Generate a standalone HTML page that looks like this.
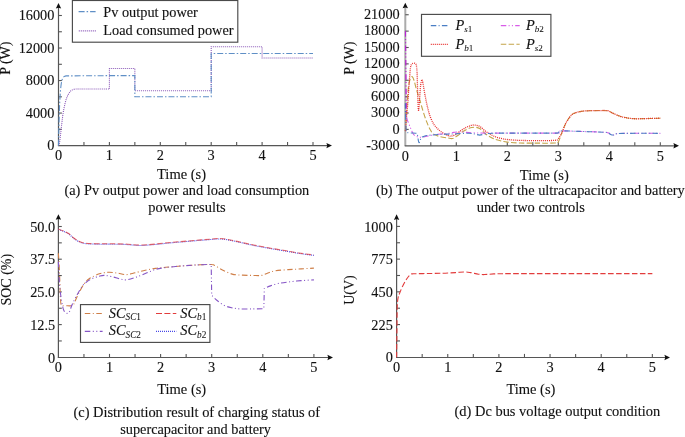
<!DOCTYPE html>
<html><head><meta charset="utf-8"><style>
html,body{margin:0;padding:0;background:#fff;}
svg{display:block;}
svg{will-change:transform;filter:blur(0.35px);}
text{font-family:"Liberation Serif", serif;font-size:14px;fill:#111;stroke:#111;stroke-width:0.12px;}
text.cap{font-size:14.45px;}
text.tl{font-size:14.5px;}
text.tk{font-size:14.3px;}
text.lg{font-size:14.3px;}
</style></head><body>
<svg width="685" height="437" viewBox="0 0 685 437">
<g>
<path d="M58.5,7 V145.6" stroke="#565656" stroke-width="1.2" fill="none"/>
<path d="M57.9,145.6 H328" stroke="#565656" stroke-width="1.2" fill="none"/>
<path d="M332,145.6 L326.4,142.9 L327.2,145.6 L326.4,148.3 Z" fill="#111"/>
<path d="M58.5,3 L55.8,8.6 L58.5,7.8 L61.2,8.6 Z" fill="#111"/>
<path d="M83.95,145.6 V142" stroke="#565656" stroke-width="1.1"/>
<path d="M109.4,145.6 V142" stroke="#565656" stroke-width="1.1"/>
<path d="M134.85,145.6 V142" stroke="#565656" stroke-width="1.1"/>
<path d="M160.3,145.6 V142" stroke="#565656" stroke-width="1.1"/>
<path d="M185.75,145.6 V142" stroke="#565656" stroke-width="1.1"/>
<path d="M211.2,145.6 V142" stroke="#565656" stroke-width="1.1"/>
<path d="M236.65,145.6 V142" stroke="#565656" stroke-width="1.1"/>
<path d="M262.1,145.6 V142" stroke="#565656" stroke-width="1.1"/>
<path d="M287.55,145.6 V142" stroke="#565656" stroke-width="1.1"/>
<path d="M313,145.6 V142" stroke="#565656" stroke-width="1.1"/>
<text class="tk" x="58.5" y="160.2" text-anchor="middle">0</text>
<text class="tk" x="109.4" y="160.2" text-anchor="middle">1</text>
<text class="tk" x="160.3" y="160.2" text-anchor="middle">2</text>
<text class="tk" x="211.2" y="160.2" text-anchor="middle">3</text>
<text class="tk" x="262.1" y="160.2" text-anchor="middle">4</text>
<text class="tk" x="313" y="160.2" text-anchor="middle">5</text>
<text class="tk" x="54.4" y="150.4" text-anchor="end">0</text>
<path d="M58.5,129.34 H61.9" stroke="#565656" stroke-width="1.1"/>
<path d="M58.5,113.07 H61.9" stroke="#565656" stroke-width="1.1"/>
<text class="tk" x="54.4" y="117.87" text-anchor="end">4000</text>
<path d="M58.5,96.81 H61.9" stroke="#565656" stroke-width="1.1"/>
<path d="M58.5,80.55 H61.9" stroke="#565656" stroke-width="1.1"/>
<text class="tk" x="54.4" y="85.35" text-anchor="end">8000</text>
<path d="M58.5,64.29 H61.9" stroke="#565656" stroke-width="1.1"/>
<path d="M58.5,48.03 H61.9" stroke="#565656" stroke-width="1.1"/>
<text class="tk" x="54.4" y="52.83" text-anchor="end">12000</text>
<path d="M58.5,31.76 H61.9" stroke="#565656" stroke-width="1.1"/>
<path d="M58.5,15.5 H61.9" stroke="#565656" stroke-width="1.1"/>
<text class="tk" x="54.4" y="20.3" text-anchor="end">16000</text>
</g>
<path d="M58.5,145.6 C58.72,144.79 59.27,144.45 59.82,140.72 C60.37,136.99 61.16,128.39 61.81,123.24 C62.45,118.09 62.89,114.02 63.69,109.82 C64.5,105.62 65.51,101.14 66.64,98.03 C67.78,94.93 69.24,92.67 70.51,91.2 C71.78,89.74 72.89,89.61 74.28,89.25 C75.67,88.89 76.4,89.09 78.86,89.05 C81.32,89.01 83.96,89.01 89.04,89.01 C94.12,89 105.96,89.01 109.35,89.01 L109.4,89.01 L109.4,68.52 L134.85,68.52 L134.85,90.8 L211.2,90.8 L211.2,46.72 L262.1,46.72 L262.1,57.95 L313,57.95" fill="none" stroke="#8a58b8" stroke-width="1.1" stroke-dasharray="1 1"/>
<path d="M58.5,145.6 L58.67,136.87 L58.84,129.22 L59.01,122.53 L59.18,116.68 L59.35,111.56 L59.52,107.08 L59.69,103.15 L59.86,99.72 L60.03,96.72 L60.2,94.09 L60.54,89.77 L60.88,86.47 L61.22,83.94 L61.56,82 L62.07,79.92 L62.57,78.52 L63.25,77.34 L64.27,76.42 L65.97,75.87 L106.04,75.67 L134.85,75.67 L134.85,96.81 L174.97,96.81 L211.2,96.81 L211.2,53.55 L251.2,53.55 L291.27,53.55 L313,53.55" fill="none" stroke="#5f8fc6" stroke-width="1.1" stroke-dasharray="6 2 1.5 2"/>
<rect x="72.4" y="0.5" width="165.4" height="41.7" fill="#fff" stroke="#4a4a4a" stroke-width="1.15"/>
<path d="M78.6,11.6 H95.6" stroke="#5f8fc6" stroke-width="1.1" stroke-dasharray="6 2 1.5 2"/>
<path d="M78.8,30.9 H96.3" stroke="#8a58b8" stroke-width="1.1" stroke-dasharray="1 1"/>
<text class="lg" x="103.3" y="16.9">Pv output power</text>
<text class="lg" x="103.3" y="35.1">Load consumed power</text>
<text transform="translate(9.7,58.2) rotate(-90)" text-anchor="middle">P (W)</text>
<text class="tl" x="157" y="179.3">Time (s)</text>
<text class="cap" x="186.85" y="194.9" text-anchor="middle" style="font-size:14.36px">(a) Pv output power and load consumption</text>
<text class="cap" x="186.9" y="211.7" text-anchor="middle">power results</text>
<path d="M405.3,6.7 V145.8" stroke="#ababab" stroke-width="2.0" fill="none"/>
<path d="M404.7,145.8 H675" stroke="#565656" stroke-width="1.2" fill="none"/>
<path d="M679,145.8 L673.4,143.1 L674.2,145.8 L673.4,148.5 Z" fill="#111"/>
<path d="M405.3,2.7 L402.6,8.3 L405.3,7.5 L408,8.3 Z" fill="#111"/>
<path d="M430.8,145.8 V142.2" stroke="#565656" stroke-width="1.1"/>
<path d="M456.3,145.8 V142.2" stroke="#565656" stroke-width="1.1"/>
<path d="M481.8,145.8 V142.2" stroke="#565656" stroke-width="1.1"/>
<path d="M507.3,145.8 V142.2" stroke="#565656" stroke-width="1.1"/>
<path d="M532.8,145.8 V142.2" stroke="#565656" stroke-width="1.1"/>
<path d="M558.3,145.8 V142.2" stroke="#565656" stroke-width="1.1"/>
<path d="M583.8,145.8 V142.2" stroke="#565656" stroke-width="1.1"/>
<path d="M609.3,145.8 V142.2" stroke="#565656" stroke-width="1.1"/>
<path d="M634.8,145.8 V142.2" stroke="#565656" stroke-width="1.1"/>
<path d="M660.3,145.8 V142.2" stroke="#565656" stroke-width="1.1"/>
<text class="tk" x="405.3" y="160.8" text-anchor="middle">0</text>
<text class="tk" x="456.3" y="160.8" text-anchor="middle">1</text>
<text class="tk" x="507.3" y="160.8" text-anchor="middle">2</text>
<text class="tk" x="558.3" y="160.8" text-anchor="middle">3</text>
<text class="tk" x="609.3" y="160.8" text-anchor="middle">4</text>
<text class="tk" x="660.3" y="160.8" text-anchor="middle">5</text>
<text class="tk" x="399.7" y="149.98" text-anchor="end">-3000</text>
<path d="M405.3,129.4 H408.7" stroke="#565656" stroke-width="1.1"/>
<text class="tk" x="399.7" y="133.6" text-anchor="end">0</text>
<path d="M405.3,113.02 H408.7" stroke="#565656" stroke-width="1.1"/>
<text class="tk" x="399.7" y="117.22" text-anchor="end">3000</text>
<path d="M405.3,96.64 H408.7" stroke="#565656" stroke-width="1.1"/>
<text class="tk" x="399.7" y="100.84" text-anchor="end">6000</text>
<path d="M405.3,80.26 H408.7" stroke="#565656" stroke-width="1.1"/>
<text class="tk" x="399.7" y="84.46" text-anchor="end">9000</text>
<path d="M405.3,63.88 H408.7" stroke="#565656" stroke-width="1.1"/>
<text class="tk" x="399.7" y="68.08" text-anchor="end">12000</text>
<path d="M405.3,47.5 H408.7" stroke="#565656" stroke-width="1.1"/>
<text class="tk" x="399.7" y="51.7" text-anchor="end">15000</text>
<path d="M405.3,31.12 H408.7" stroke="#565656" stroke-width="1.1"/>
<text class="tk" x="399.7" y="35.32" text-anchor="end">18000</text>
<path d="M405.3,14.74 H408.7" stroke="#565656" stroke-width="1.1"/>
<text class="tk" x="399.7" y="18.94" text-anchor="end">21000</text>
<path d="M405.3,131.04 C405.43,129.4 405.77,126.03 406.06,121.21 C406.36,116.39 406.62,108.29 407.09,102.1 C407.55,95.91 408.11,88.31 408.87,84.08 C409.63,79.85 410.82,77.35 411.68,76.71 C412.53,76.07 413.16,78.07 413.97,80.26 C414.78,82.45 415.5,86.41 416.52,89.87 C417.54,93.33 418.99,97.4 420.09,101.01 C421.2,104.61 422.05,108.01 423.15,111.49 C424.26,114.98 425.53,118.87 426.72,121.92 C427.91,124.97 429.14,127.74 430.29,129.78 C431.44,131.82 431.91,132.99 433.61,134.15 C435.31,135.31 438.15,136.13 440.49,136.77 C442.83,137.41 445.63,137.68 447.63,137.97 C449.63,138.26 450.78,138.94 452.48,138.52 C454.18,138.1 456.09,136.63 457.83,135.46 C459.57,134.3 460.98,132.76 462.93,131.53 C464.88,130.3 467.52,128.79 469.56,128.09 C471.6,127.38 473.47,127.22 475.17,127.3 C476.87,127.38 478.14,127.59 479.76,128.58 C481.38,129.57 483.25,131.9 484.86,133.22 C486.48,134.54 488,135.6 489.45,136.5 C490.89,137.4 491.83,137.94 493.53,138.63 C495.23,139.31 497.36,140.01 499.65,140.59 C501.95,141.18 503.9,141.72 507.3,142.12 C510.7,142.52 514.95,142.82 520.05,143 C525.15,143.17 532.12,143.15 537.9,143.16 C543.68,143.17 551.33,143.25 554.73,143.05 C558.13,142.85 557.11,143.69 558.3,141.96 C559.49,140.23 560.68,135.68 561.87,132.68 C563.06,129.67 564.17,126.49 565.44,123.94 C566.72,121.39 568.16,119.12 569.52,117.39 C570.88,115.66 571.64,114.57 573.6,113.57 C575.56,112.56 578.7,111.86 581.25,111.38 C583.8,110.91 585.92,110.86 588.9,110.73 C591.88,110.59 595.96,110.56 599.1,110.56 C602.25,110.56 605.64,110.36 607.77,110.73 C609.89,111.09 609.89,111.86 611.85,112.75 C613.81,113.63 616.95,115.16 619.5,116.02 C622.05,116.89 624.6,117.48 627.15,117.93 C629.7,118.39 631.82,118.64 634.8,118.75 C637.77,118.86 640.75,118.68 645,118.59 C649.25,118.5 657.75,118.27 660.3,118.21" fill="none" stroke="#c4a448" stroke-width="1.1" stroke-dasharray="5.5 2.3"/>
<path d="M405.3,131.04 C405.37,130.77 405.54,131.4 405.71,129.4 C405.88,127.4 406,123.03 406.32,119.03 C406.64,115.02 407.26,110.02 407.65,105.38 C408.03,100.73 408.33,95.37 408.62,91.18 C408.9,86.99 409.08,84.08 409.38,80.26 C409.68,76.44 410.06,70.89 410.4,68.25 C410.74,65.61 411,65.25 411.42,64.43 C411.85,63.61 412.36,63.52 412.95,63.33 C413.54,63.15 414.44,63.06 414.99,63.33 C415.54,63.61 415.92,63.52 416.26,64.97 C416.61,66.43 416.82,68.16 417.03,72.07 C417.24,75.98 417.37,82.99 417.54,88.45 C417.71,93.91 417.86,101.19 418.05,104.83 C418.24,108.47 418.41,111.2 418.66,110.29 C418.92,109.38 419.26,103.47 419.58,99.37 C419.9,95.28 420.22,89 420.6,85.72 C420.98,82.44 421.49,80.17 421.88,79.71 C422.26,79.26 422.34,80.26 422.89,82.99 C423.45,85.72 424.38,91.91 425.19,96.09 C426,100.28 426.89,104.65 427.74,108.11 C428.59,111.56 429.31,114.2 430.29,116.84 C431.27,119.48 432.5,122.07 433.61,123.94 C434.71,125.81 435.52,126.67 436.92,128.09 C438.32,129.51 440.24,131.24 442.02,132.46 C443.8,133.68 446.1,134.81 447.63,135.41 C449.16,136.01 449.84,136.23 451.2,136.06 C452.56,135.9 454.18,135.33 455.79,134.42 C457.41,133.51 459.11,131.8 460.89,130.6 C462.67,129.4 464.8,128.07 466.5,127.22 C468.2,126.36 469.73,125.83 471.09,125.47 C472.45,125.1 473.22,124.88 474.66,125.03 C476.11,125.19 478.06,125.43 479.76,126.4 C481.46,127.36 483.25,129.59 484.86,130.82 C486.48,132.05 488,132.9 489.45,133.77 C490.89,134.63 491.83,135.28 493.53,136.01 C495.23,136.73 497.36,137.55 499.65,138.14 C501.95,138.72 503.9,139.13 507.3,139.5 C510.7,139.87 514.95,140.19 520.05,140.37 C525.15,140.56 532.12,140.6 537.9,140.59 C543.68,140.58 551.33,140.64 554.73,140.32 C558.13,140 557.11,139.96 558.3,138.68 C559.49,137.41 560.68,135.13 561.87,132.68 C563.06,130.22 564.17,126.49 565.44,123.94 C566.72,121.39 568.16,119.12 569.52,117.39 C570.88,115.66 571.64,114.57 573.6,113.57 C575.56,112.56 578.7,111.86 581.25,111.38 C583.8,110.91 585.92,110.86 588.9,110.73 C591.88,110.59 595.96,110.56 599.1,110.56 C602.25,110.56 605.64,110.36 607.77,110.73 C609.89,111.09 609.89,111.86 611.85,112.75 C613.81,113.63 616.95,115.16 619.5,116.02 C622.05,116.89 624.6,117.48 627.15,117.93 C629.7,118.39 631.82,118.64 634.8,118.75 C637.77,118.86 640.75,118.68 645,118.59 C649.25,118.5 657.75,118.27 660.3,118.21" fill="none" stroke="#e8302e" stroke-width="1.3" stroke-dasharray="1 1"/>
<path d="M405.45,31.12 L406.32,115.75 C406.46,116.39 406.73,118.15 407.19,119.57 C407.65,120.99 408.45,122.71 409.07,124.27 C409.69,125.82 410.15,127.21 410.91,128.91 C411.67,130.61 412.55,133.17 413.61,134.48 C414.68,135.79 416.12,136.3 417.29,136.77 C418.45,137.24 419.2,137.36 420.6,137.32 C422,137.27 424,136.82 425.7,136.5 C427.4,136.18 428.93,135.77 430.8,135.41 C432.67,135.04 434.37,134.59 436.92,134.31 C439.47,134.04 443.3,134.09 446.1,133.77 C448.91,133.45 451.62,132.72 453.75,132.4 C455.88,132.08 456.73,131.86 458.85,131.86 C460.98,131.86 463.52,132.22 466.5,132.4 C469.48,132.58 473.3,132.83 476.7,132.95 C480.1,133.07 481.8,133.09 486.9,133.11 C492,133.14 495.83,133.11 507.3,133.11 C518.77,133.11 547.25,133.19 555.75,133.11 C564.25,133.04 557.45,133.04 558.3,132.68 C559.15,132.31 558.3,131.17 560.85,130.93 C563.4,130.68 568.93,131.07 573.6,131.2 C578.27,131.33 583.38,131.48 588.9,131.69 C594.42,131.9 603.18,132.02 606.75,132.46 C610.32,132.89 609.21,133.89 610.32,134.31 C611.42,134.74 612.27,135.13 613.38,135.02 C614.49,134.91 614.23,133.94 616.95,133.66 C619.67,133.38 622.48,133.39 629.7,133.33 C636.93,133.28 655.2,133.33 660.3,133.33" fill="none" stroke="#d85ce8" stroke-width="1.1" stroke-dasharray="5.5 2.3 1 2.3 1 2.3"/>
<path d="M405.3,103.19 C405.34,105.29 405.43,111.38 405.56,115.75 C405.68,120.12 405.85,126.67 406.06,129.4 C406.28,132.13 406.11,131.54 406.83,132.13 C407.55,132.72 408.96,132.77 410.4,132.95 C411.85,133.13 414.35,132.99 415.5,133.22 C416.65,133.45 416.82,133.13 417.29,134.31 C417.75,135.5 418.01,138.91 418.31,140.32 C418.6,141.73 418.77,142.64 419.07,142.78 C419.37,142.91 419.75,141.96 420.09,141.14 C420.43,140.32 420.43,138.69 421.11,137.86 C421.79,137.03 422.56,136.63 424.17,136.17 C425.79,135.72 428,135.44 430.8,135.13 C433.61,134.82 437.6,134.5 441,134.31 C444.4,134.13 447.8,134.18 451.2,134.04 C454.6,133.9 458.43,133.63 461.4,133.5 C464.38,133.36 466.84,133.13 469.05,133.22 C471.26,133.31 472.88,133.73 474.66,134.04 C476.45,134.35 478.06,135.08 479.76,135.08 C481.46,135.08 482.82,134.35 484.86,134.04 C486.9,133.73 488.26,133.38 492,133.22 C495.74,133.07 500.5,133.13 507.3,133.11 C514.1,133.09 524.72,133.11 532.8,133.11 C540.88,133.11 551.5,133.19 555.75,133.11 C560,133.04 557.45,133.04 558.3,132.68 C559.15,132.31 558.3,131.17 560.85,130.93 C563.4,130.68 568.93,131.07 573.6,131.2 C578.27,131.33 583.38,131.48 588.9,131.69 C594.42,131.9 603.18,132.02 606.75,132.46 C610.32,132.89 609.21,133.89 610.32,134.31 C611.42,134.74 612.27,135.13 613.38,135.02 C614.49,134.91 614.23,133.94 616.95,133.66 C619.67,133.38 622.48,133.39 629.7,133.33 C636.93,133.28 655.2,133.33 660.3,133.33" fill="none" stroke="#4a7ec4" stroke-width="1.1" stroke-dasharray="5.5 2.3 1 2.3"/>
<path d="M405.45,31.12 L406.32,115.75" style="mix-blend-mode:multiply" fill="none" stroke="#d85ce8" stroke-width="1.1" stroke-dasharray="5.5 2.3 1 2.3 1 2.3"/>
<rect x="421.5" y="14.4" width="129.4" height="41.9" fill="#fff" stroke="#4a4a4a" stroke-width="1.15"/>
<path d="M430.8,25.6 H448.3" stroke="#4a7ec4" stroke-width="1.1" stroke-dasharray="5.5 2.3 1 2.3"/>
<path d="M430.8,44.3 H448.3" stroke="#e8302e" stroke-width="1.3" stroke-dasharray="1 1"/>
<path d="M500.8,25.6 H519.7" stroke="#d85ce8" stroke-width="1.1" stroke-dasharray="5.5 2.3 1 2.3 1 2.3"/>
<path d="M500.8,44.3 H519.7" stroke="#c4a448" stroke-width="1.1" stroke-dasharray="5.5 2.3"/>
<text x="455.5" y="30.2" style="font-size:14.4px"><tspan font-style="italic">P</tspan><tspan font-size="9.1" dy="2" stroke-width="0.05"><tspan font-style="italic">s</tspan>1</tspan></text>
<text x="455.5" y="49.0" style="font-size:14.4px"><tspan font-style="italic">P</tspan><tspan font-size="9.1" dy="2" stroke-width="0.05"><tspan font-style="italic">b</tspan>1</tspan></text>
<text x="526" y="30.2" style="font-size:14.4px"><tspan font-style="italic">P</tspan><tspan font-size="9.1" dy="2" stroke-width="0.05"><tspan font-style="italic">b</tspan>2</tspan></text>
<text x="526" y="49.0" style="font-size:14.4px"><tspan font-style="italic">P</tspan><tspan font-size="9.1" dy="2" stroke-width="0.05"><tspan font-style="italic">s</tspan>2</tspan></text>
<text transform="translate(353.8,58.2) rotate(-90)" text-anchor="middle">P (W)</text>
<text class="tl" x="519.8" y="179.5">Time (s)</text>
<text class="cap" x="530.3" y="194.9" text-anchor="middle" style="font-size:14.35px">(b) The output power of the ultracapacitor and battery</text>
<text class="cap" x="530.8" y="212.3" text-anchor="middle">under two controls</text>
<path d="M58.4,218.2 V357.5" stroke="#565656" stroke-width="1.2" fill="none"/>
<path d="M57.8,357.5 H329" stroke="#565656" stroke-width="1.2" fill="none"/>
<path d="M333,357.5 L327.4,354.8 L328.2,357.5 L327.4,360.2 Z" fill="#111"/>
<path d="M58.4,214.2 L55.7,219.8 L58.4,219 L61.1,219.8 Z" fill="#111"/>
<path d="M83.95,357.5 V353.9" stroke="#565656" stroke-width="1.1"/>
<path d="M109.5,357.5 V353.9" stroke="#565656" stroke-width="1.1"/>
<path d="M135.05,357.5 V353.9" stroke="#565656" stroke-width="1.1"/>
<path d="M160.6,357.5 V353.9" stroke="#565656" stroke-width="1.1"/>
<path d="M186.15,357.5 V353.9" stroke="#565656" stroke-width="1.1"/>
<path d="M211.7,357.5 V353.9" stroke="#565656" stroke-width="1.1"/>
<path d="M237.25,357.5 V353.9" stroke="#565656" stroke-width="1.1"/>
<path d="M262.8,357.5 V353.9" stroke="#565656" stroke-width="1.1"/>
<path d="M288.35,357.5 V353.9" stroke="#565656" stroke-width="1.1"/>
<path d="M313.9,357.5 V353.9" stroke="#565656" stroke-width="1.1"/>
<text class="tk" x="58.4" y="372.2" text-anchor="middle">0</text>
<text class="tk" x="109.5" y="372.2" text-anchor="middle">1</text>
<text class="tk" x="160.6" y="372.2" text-anchor="middle">2</text>
<text class="tk" x="211.7" y="372.2" text-anchor="middle">3</text>
<text class="tk" x="262.8" y="372.2" text-anchor="middle">4</text>
<text class="tk" x="313.9" y="372.2" text-anchor="middle">5</text>
<text class="tk" x="55.2" y="362.5" text-anchor="end">0</text>
<path d="M58.4,340.95 H61.8" stroke="#565656" stroke-width="1.1"/>
<path d="M58.4,324.6 H61.8" stroke="#565656" stroke-width="1.1"/>
<text class="tk" x="55.2" y="329.8" text-anchor="end">12.5</text>
<path d="M58.4,308.25 H61.8" stroke="#565656" stroke-width="1.1"/>
<path d="M58.4,291.9 H61.8" stroke="#565656" stroke-width="1.1"/>
<text class="tk" x="55.2" y="297.1" text-anchor="end">25.0</text>
<path d="M58.4,275.55 H61.8" stroke="#565656" stroke-width="1.1"/>
<path d="M58.4,259.2 H61.8" stroke="#565656" stroke-width="1.1"/>
<text class="tk" x="55.2" y="264.4" text-anchor="end">37.5</text>
<path d="M58.4,242.85 H61.8" stroke="#565656" stroke-width="1.1"/>
<path d="M58.4,226.5 H61.8" stroke="#565656" stroke-width="1.1"/>
<text class="tk" x="55.2" y="231.7" text-anchor="end">50.0</text>
<path d="M58.4,253.18 C58.57,256.15 59.08,263.43 59.42,270.97 C59.76,278.51 60.15,292.77 60.44,298.44 C60.74,304.11 60.87,303.76 61.21,304.98 C61.55,306.2 61.68,305.63 62.49,305.76 C63.3,305.9 64.62,305.76 66.06,305.76 C67.51,305.76 69.9,306.03 71.17,305.76 C72.45,305.5 72.62,305.98 73.73,304.2 C74.84,302.41 76.11,298.4 77.82,295.04 C79.52,291.68 81.99,286.8 83.95,284.05 C85.91,281.31 87.02,280.26 89.57,278.56 C92.13,276.86 96.13,274.9 99.28,273.85 C102.43,272.8 105.5,272.41 108.48,272.28 C111.46,272.15 114.18,272.67 117.16,273.06 C120.15,273.46 123.38,274.68 126.36,274.63 C129.34,274.59 131.9,273.54 135.05,272.8 C138.2,272.06 141.86,270.93 145.27,270.19 C148.68,269.45 152.08,268.84 155.49,268.36 C158.9,267.88 161.45,267.7 165.71,267.31 C169.97,266.92 175.93,266.39 181.04,266 C186.15,265.61 191.52,265.22 196.37,264.96 C201.22,264.69 207.19,264.39 210.17,264.43 C213.15,264.48 212.3,264.34 214.25,265.22 C216.21,266.09 218.94,268.18 221.92,269.66 C224.9,271.15 228.73,273.2 232.14,274.11 C235.55,275.03 238.95,274.94 242.36,275.16 C245.77,275.38 249.43,275.38 252.58,275.42 C255.73,275.46 258.71,275.81 261.27,275.42 C263.82,275.03 265.53,273.85 267.91,273.06 C270.29,272.28 272.17,271.28 275.57,270.71 C278.98,270.14 284.09,269.97 288.35,269.66 C292.61,269.36 296.87,269.14 301.12,268.88 C305.38,268.62 311.77,268.23 313.9,268.09" fill="none" stroke="#cf7f48" stroke-width="1.1" stroke-dasharray="5.5 2.5 1 2.5"/>
<path d="M58.4,261.82 C58.53,264.65 58.78,273.28 59.17,278.82 C59.55,284.36 59.98,289.89 60.7,295.04 C61.42,300.18 62.45,306.64 63.51,309.69 C64.57,312.74 66.06,313.09 67.09,313.35 C68.11,313.61 68.79,312.74 69.64,311.26 C70.49,309.78 70.83,307.42 72.2,304.46 C73.56,301.49 75.86,296.83 77.82,293.47 C79.78,290.11 81.65,286.76 83.95,284.31 C86.25,281.87 89.06,280.17 91.62,278.82 C94.17,277.47 97.15,276.77 99.28,276.2 C101.41,275.64 102.26,275.33 104.39,275.42 C106.52,275.51 109.5,276.16 112.06,276.73 C114.61,277.29 117.34,278.3 119.72,278.82 C122.1,279.34 123.81,280.08 126.36,279.87 C128.92,279.65 131.9,278.56 135.05,277.51 C138.2,276.47 141.86,274.94 145.27,273.59 C148.68,272.24 152.08,270.41 155.49,269.4 C158.9,268.4 161.45,268.14 165.71,267.57 C169.97,267 175.93,266.44 181.04,266 C186.15,265.57 191.35,265.22 196.37,264.96 C201.39,264.69 208.72,264.52 211.19,264.43 L211.7,295.04 L211.7,295.04 C212.55,295.91 214.68,298.53 216.81,300.27 C218.94,302.02 221.92,304.24 224.48,305.5 C227.03,306.77 229.59,307.29 232.14,307.86 C234.7,308.42 236.4,308.73 239.81,308.9 C243.21,309.08 248.58,308.95 252.58,308.9 C256.58,308.86 261.95,308.69 263.82,308.64 L264.33,288.5 L264.33,288.5 C265.36,288.06 268.17,286.71 270.47,285.88 C272.76,285.05 275.15,284.18 278.13,283.53 C281.11,282.87 284.52,282.44 288.35,281.96 C292.18,281.48 296.87,281 301.12,280.65 C305.38,280.3 311.77,280 313.9,279.87" fill="none" stroke="#8656c6" stroke-width="1.1" stroke-dasharray="5.5 2.5 1 2.5 1 2.5"/>
<path transform="translate(0,0.4)" d="M58.4,229.12 C59.25,229.42 61.81,230.21 63.51,230.95 C65.21,231.69 66.92,232.39 68.62,233.56 C70.32,234.74 72.03,236.75 73.73,238.01 C75.43,239.27 77.14,240.32 78.84,241.15 C80.54,241.98 82.25,242.59 83.95,242.98 C85.65,243.37 86.5,243.37 89.06,243.5 C91.62,243.63 95.87,243.72 99.28,243.77 C102.69,243.81 105.24,243.72 109.5,243.77 C113.76,243.81 119.72,243.81 124.83,244.03 C129.94,244.25 135.05,245.07 140.16,245.07 C145.27,245.07 150.38,244.46 155.49,244.03 C160.6,243.59 165.71,242.94 170.82,242.46 C175.93,241.98 181.04,241.59 186.15,241.15 C191.26,240.71 197.22,240.19 201.48,239.84 C205.74,239.49 208.72,239.27 211.7,239.06 C214.68,238.84 216.81,238.49 219.37,238.53 C221.92,238.58 224.05,238.84 227.03,239.32 C230.01,239.8 232.99,240.5 237.25,241.41 C241.51,242.33 247.47,243.77 252.58,244.81 C257.69,245.86 262.8,246.77 267.91,247.69 C273.02,248.61 278.13,249.43 283.24,250.31 C288.35,251.18 293.46,252.14 298.57,252.92 C303.68,253.71 311.34,254.67 313.9,255.01" fill="none" stroke="#4848e6" stroke-width="1.1" stroke-dasharray="1 1"/>
<path d="M58.4,229.12 C59.25,229.42 61.81,230.21 63.51,230.95 C65.21,231.69 66.92,232.39 68.62,233.56 C70.32,234.74 72.03,236.75 73.73,238.01 C75.43,239.27 77.14,240.32 78.84,241.15 C80.54,241.98 82.25,242.59 83.95,242.98 C85.65,243.37 86.5,243.37 89.06,243.5 C91.62,243.63 95.87,243.72 99.28,243.77 C102.69,243.81 105.24,243.72 109.5,243.77 C113.76,243.81 119.72,243.81 124.83,244.03 C129.94,244.25 135.05,245.07 140.16,245.07 C145.27,245.07 150.38,244.46 155.49,244.03 C160.6,243.59 165.71,242.94 170.82,242.46 C175.93,241.98 181.04,241.59 186.15,241.15 C191.26,240.71 197.22,240.19 201.48,239.84 C205.74,239.49 208.72,239.27 211.7,239.06 C214.68,238.84 216.81,238.49 219.37,238.53 C221.92,238.58 224.05,238.84 227.03,239.32 C230.01,239.8 232.99,240.5 237.25,241.41 C241.51,242.33 247.47,243.77 252.58,244.81 C257.69,245.86 262.8,246.77 267.91,247.69 C273.02,248.61 278.13,249.43 283.24,250.31 C288.35,251.18 293.46,252.14 298.57,252.92 C303.68,253.71 311.34,254.67 313.9,255.01" fill="none" stroke="#e23c3c" stroke-opacity="0.75" stroke-width="1.1" stroke-dasharray="5.5 2.4"/>
<rect x="80.5" y="304.6" width="129.4" height="37.8" fill="#fff" stroke="#4a4a4a" stroke-width="1.15"/>
<path d="M84.8,313.5 H102.6" stroke="#cf7f48" stroke-width="1.1" stroke-dasharray="5.5 2.5 1 2.5"/>
<path d="M84.8,331.4 H102.6" stroke="#8656c6" stroke-width="1.1" stroke-dasharray="5.5 2.5 1 2.5 1 2.5"/>
<path d="M156,313.5 H176.3" stroke="#e23c3c" stroke-width="1.1" stroke-dasharray="6 2.4"/>
<path d="M156,331.4 H176.3" stroke="#4848e6" stroke-width="1.1" stroke-dasharray="1 1"/>
<text x="108.7" y="318" style="font-size:14.4px"><tspan font-style="italic">SC</tspan><tspan font-size="9.3" dy="2.1" stroke-width="0.05"><tspan font-style="italic">SC</tspan>1</tspan></text>
<text x="108.7" y="335.4" style="font-size:14.4px"><tspan font-style="italic">SC</tspan><tspan font-size="9.3" dy="2.1" stroke-width="0.05"><tspan font-style="italic">SC</tspan>2</tspan></text>
<text x="180.2" y="318" style="font-size:14.4px"><tspan font-style="italic">SC</tspan><tspan font-size="9.3" dy="2.1" stroke-width="0.05"><tspan font-style="italic">b</tspan>1</tspan></text>
<text x="180.2" y="335.4" style="font-size:14.4px"><tspan font-style="italic">SC</tspan><tspan font-size="9.3" dy="2.1" stroke-width="0.05"><tspan font-style="italic">b</tspan>2</tspan></text>
<text transform="translate(10.8,279.7) rotate(-90)" text-anchor="middle">SOC (%)</text>
<text class="tl" x="157.2" y="394">Time (s)</text>
<text class="cap" x="196.8" y="416.6" text-anchor="middle">(c) Distribution result of charging status of</text>
<text class="cap" x="195.6" y="434" text-anchor="middle" style="font-size:14.3px">supercapacitor and battery</text>
<path d="M396.6,218.3 V357.5" stroke="#565656" stroke-width="1.2" fill="none"/>
<path d="M396,357.5 H666" stroke="#565656" stroke-width="1.2" fill="none"/>
<path d="M670,357.5 L664.4,354.8 L665.2,357.5 L664.4,360.2 Z" fill="#111"/>
<path d="M396.6,214.3 L393.9,219.9 L396.6,219.1 L399.3,219.9 Z" fill="#111"/>
<path d="M422.18,357.5 V353.9" stroke="#565656" stroke-width="1.1"/>
<path d="M447.75,357.5 V353.9" stroke="#565656" stroke-width="1.1"/>
<path d="M473.33,357.5 V353.9" stroke="#565656" stroke-width="1.1"/>
<path d="M498.9,357.5 V353.9" stroke="#565656" stroke-width="1.1"/>
<path d="M524.48,357.5 V353.9" stroke="#565656" stroke-width="1.1"/>
<path d="M550.05,357.5 V353.9" stroke="#565656" stroke-width="1.1"/>
<path d="M575.62,357.5 V353.9" stroke="#565656" stroke-width="1.1"/>
<path d="M601.2,357.5 V353.9" stroke="#565656" stroke-width="1.1"/>
<path d="M626.77,357.5 V353.9" stroke="#565656" stroke-width="1.1"/>
<path d="M652.35,357.5 V353.9" stroke="#565656" stroke-width="1.1"/>
<text class="tk" x="396.6" y="372.2" text-anchor="middle">0</text>
<text class="tk" x="447.75" y="372.2" text-anchor="middle">1</text>
<text class="tk" x="498.9" y="372.2" text-anchor="middle">2</text>
<text class="tk" x="550.05" y="372.2" text-anchor="middle">3</text>
<text class="tk" x="601.2" y="372.2" text-anchor="middle">4</text>
<text class="tk" x="652.35" y="372.2" text-anchor="middle">5</text>
<text class="tk" x="392.8" y="362.4" text-anchor="end">0</text>
<path d="M396.6,340.94 H400" stroke="#565656" stroke-width="1.1"/>
<path d="M396.6,324.57 H400" stroke="#565656" stroke-width="1.1"/>
<text class="tk" x="392.8" y="329.68" text-anchor="end">225</text>
<path d="M396.6,308.21 H400" stroke="#565656" stroke-width="1.1"/>
<path d="M396.6,291.85 H400" stroke="#565656" stroke-width="1.1"/>
<text class="tk" x="392.8" y="296.95" text-anchor="end">450</text>
<path d="M396.6,275.49 H400" stroke="#565656" stroke-width="1.1"/>
<path d="M396.6,259.12 H400" stroke="#565656" stroke-width="1.1"/>
<text class="tk" x="392.8" y="264.23" text-anchor="end">775</text>
<path d="M396.6,242.76 H400" stroke="#565656" stroke-width="1.1"/>
<path d="M396.6,226.4 H400" stroke="#565656" stroke-width="1.1"/>
<text class="tk" x="392.8" y="231.5" text-anchor="end">1000</text>
<path d="M396.6,357.3 C396.65,352.94 396.8,339.63 396.91,331.12 C397.02,322.61 397.06,311.81 397.26,306.25 C397.47,300.69 397.73,299.92 398.13,297.74 C398.54,295.56 398.9,295.12 399.67,293.16 C400.44,291.2 401.54,288.36 402.74,285.96 C403.93,283.56 405.55,280.66 406.83,278.76 C408.11,276.86 409.3,275.4 410.41,274.57 C411.52,273.74 410.67,273.96 413.48,273.79 C416.29,273.61 422.43,273.61 427.29,273.52 C432.15,273.44 437.95,273.41 442.63,273.26 C447.32,273.11 451.76,272.83 455.42,272.61 C459.09,272.39 462.07,271.95 464.63,271.95 C467.19,271.95 468.47,272.24 470.77,272.61 C473.07,272.98 476.14,273.85 478.44,274.18 C480.74,274.51 482.02,274.61 484.58,274.57 C487.14,274.53 489.69,274.07 493.79,273.92 C497.88,273.76 499.75,273.7 509.13,273.65 C518.51,273.61 534.7,273.65 550.05,273.65 C565.39,273.65 584.15,273.65 601.2,273.65 C618.25,273.65 643.83,273.65 652.35,273.65" fill="none" stroke="#e23c3c" stroke-width="1.1" stroke-dasharray="5.5 2.4"/>
<text transform="translate(354.3,290.1) rotate(-90)" text-anchor="middle">U(V)</text>
<text class="tl" x="506.4" y="394">Time (s)</text>
<text class="cap" x="557.4" y="416.4" text-anchor="middle">(d) Dc bus voltage output condition</text>
</svg>
</body></html>
